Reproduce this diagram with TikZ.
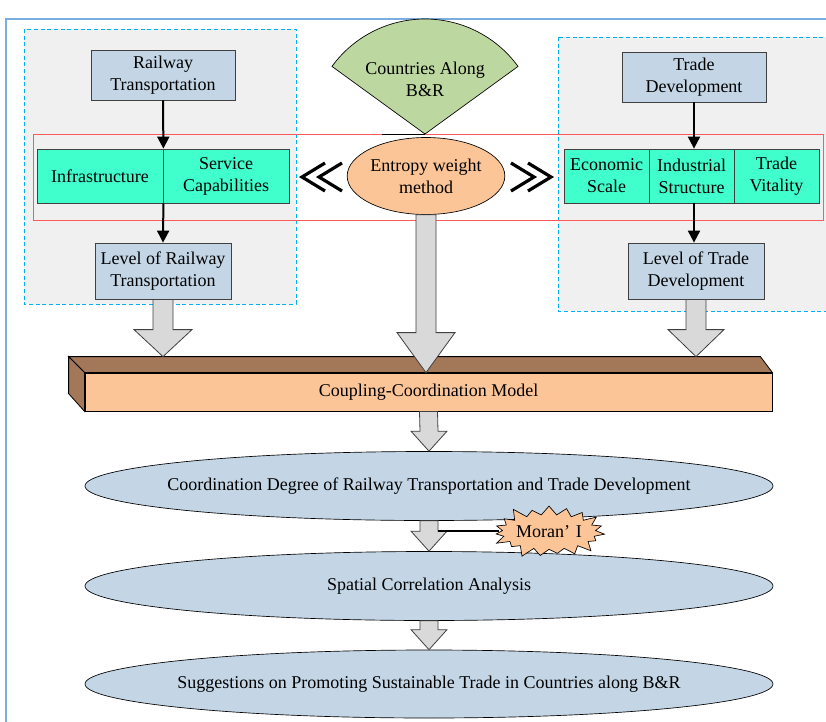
\documentclass[tikz,border=0pt]{standalone}
\usepackage{fontspec}
\setmainfont{Liberation Serif}
\newfontfamily\tsfont{Liberation Serif}
\usepackage{xcolor}
\usepackage{tikz}
\usetikzlibrary{shapes,shapes.symbols,arrows.meta,calc}

\definecolor{boxblue}{HTML}{C4D6E6}
\definecolor{mintgreen}{HTML}{40FFCC}
\definecolor{peach}{HTML}{FCC598}
\definecolor{sagegreen}{HTML}{BDD7A0}
\definecolor{woodbrown}{HTML}{A37858}
\definecolor{arrowgray}{HTML}{D9D9D9}
\definecolor{panelgray}{HTML}{F0F0F0}
\definecolor{framecyan}{HTML}{00B0F0}
\definecolor{frameblue}{HTML}{7AAEE0}
\definecolor{rowred}{HTML}{FF5A5A}

\tikzstyle{tsText} = [
    text=black,
    font=\tsfont\fontsize{13.5}{16.5}\selectfont
]
\tikzstyle{tsWraptext} = [
    tsText,
    text centered,
    align=center
]
\tikzstyle{tsRectangle} = [
    rectangle,
    tsWraptext,
    draw=black!75,
    line width=0.6pt,
    inner sep=0pt]
\tikzstyle{tsEllipse} = [
    ellipse,
    tsWraptext,
    draw=black,
    line width=0.5pt,
    inner sep=0pt]
\tikzstyle{tsFlow} = [
    draw=black,
    line width=1.5pt,
    -{Triangle[length=9pt,width=9pt]}]
\tikzstyle{tsBlock} = [
    fill=arrowgray,
    draw=black!75,
    line width=0.6pt]
\tikzstyle{tsPanel} = [
    fill=panelgray,
    draw=framecyan,
    line width=0.6pt,
    dash pattern=on 3pt off 2pt]

% block arrow: from #1 down to tip #2, head length #3, shaft half #4, head half #5
\newcommand{\tsBlockArrow}[5]{%
    \draw[tsBlock] ($(#1)+(-#4,0)$) -- ($(#2)+(-#4,-#3)$) -- ($(#2)+(-#5,-#3)$) -- (#2)
        -- ($(#2)+(#5,-#3)$) -- ($(#2)+(#4,-#3)$) -- ($(#1)+(#4,0)$) -- cycle;}

\begin{document}
\begin{tikzpicture}[x=0.75pt, y=-0.75pt]

    \useasboundingbox (0,0) rectangle (826,722);

    % frame and panels
    \draw[frameblue, line width=1pt] (830,19) -- (6,19) -- (6,730);
    \draw[tsPanel] (24,29) rectangle (296,304);
    \draw[tsPanel] (558,37) rectangle (840,311);
    \draw[rowred, line width=0.7pt] (33,134) rectangle (823,220);

    % countries sector
    \coordinate (apex) at (425,134);
    \draw[fill=sagegreen, draw=black, line width=0.5pt] (apex) -- ++(-144:115)
        arc[start angle=-144, end angle=-36, radius=115] -- cycle;
    \draw[black, line width=0.6pt] (382,134) -- (apex);
    \node[tsWraptext] (countries) at (425,79) {Countries Along\\B\&R};

    % railway side
    \node[  tsRectangle,
            minimum width=108pt,
            minimum height=37.5pt,
            fill=boxblue] (rail) at (163,75) {Railway\\Transportation};

    \node[  tsRectangle,
            minimum width=94.5pt,
            minimum height=40.5pt,
            fill=mintgreen] (infra) at (100,176) {Infrastructure};

    \node[  tsRectangle,
            minimum width=94.5pt,
            minimum height=40.5pt,
            fill=mintgreen] (service) at (226,176) {Service\\Capabilities};

    \node[  tsRectangle,
            minimum width=102pt,
            minimum height=42pt,
            fill=boxblue] (lvlrail) at (163,271) {Level of Railway\\Transportation};

    % trade side
    \node[  tsRectangle,
            minimum width=108pt,
            minimum height=37.5pt,
            fill=boxblue] (trade) at (694,77) {Trade\\Development};

    \node[  tsRectangle,
            minimum width=63.75pt,
            minimum height=40.5pt,
            fill=mintgreen] (econ) at (606.5,176) {Economic\\Scale};

    \node[  tsRectangle,
            minimum width=63.75pt,
            minimum height=40.5pt,
            fill=mintgreen] (indus) at (691.5,176) {Industrial\\Structure};

    \node[  tsRectangle,
            minimum width=63.75pt,
            minimum height=40.5pt,
            fill=mintgreen] (vital) at (776.5,176) {Trade\\Vitality};

    \node[  tsRectangle,
            minimum width=102pt,
            minimum height=42pt,
            fill=boxblue] (lvltrade) at (696,271) {Level of Trade\\Development};

    \draw[tsFlow] (rail.south) -- (infra.north east);
    \draw[tsFlow] (infra.south east) -- (lvlrail.north);
    \draw[tsFlow] (trade.south) -- (trade.south |- indus.north);
    \draw[tsFlow] (trade.south |- indus.south) -- (trade.south |- lvltrade.north);

    % entropy weight method
    \node[  tsEllipse,
            minimum width=113.25pt,
            minimum height=57.75pt,
            fill=peach] (entropy) at (426,176) {Entropy weight\\method};

    \draw[line width=2.4pt, miter limit=4] (325,163) -- (302,177) -- (325,191);
    \draw[line width=2.4pt, miter limit=4] (342,163) -- (319,177) -- (342,191);
    \draw[line width=2.4pt, miter limit=4] (511,163) -- (534,177) -- (511,191);
    \draw[line width=2.4pt, miter limit=4] (528,163) -- (551,177) -- (528,191);

    % coupling-coordination bar
    \node[  tsRectangle,
            minimum width=515.25pt,
            minimum height=28.5pt,
            draw=black,
            fill=peach] (coupling) at (428.5,392) {Coupling-Coordination Model};
    \draw[fill=woodbrown, draw=black, line width=0.6pt] (coupling.north west) -- ++(-16,-16)
        -- ($(coupling.north east)+(-12,-16)$) -- (coupling.north east) -- cycle;
    \draw[fill=woodbrown, draw=black, line width=0.6pt] (coupling.north west) -- ++(-16,-16)
        -- ++(0,37) -- (coupling.south west) -- cycle;
    \coordinate (bartop) at ($(coupling.north)+(0,-16)$);

    \tsBlockArrow{lvlrail.south}{lvlrail.south |- bartop}{27}{10}{29}
    \tsBlockArrow{lvltrade.south}{lvltrade.south |- bartop}{27}{10}{28}
    \tsBlockArrow{entropy.south}{entropy.south |- coupling.north}{40}{10}{29}

    % results
    \node[  tsEllipse,
            inner xsep=-14pt,
            minimum width=516pt,
            minimum height=51.75pt,
            fill=boxblue] (degree) at (429,486) {Coordination Degree of Railway Transportation and Trade Development};

    \node[  tsEllipse,
            inner xsep=-14pt,
            minimum width=516pt,
            minimum height=51.75pt,
            fill=boxblue] (spatial) at (429,586) {Spatial Correlation Analysis};

    \node[  tsEllipse,
            inner xsep=-14pt,
            minimum width=516pt,
            minimum height=51pt,
            fill=boxblue] (suggest) at (429,684) {Suggestions on Promoting Sustainable Trade in Countries along B\&R};

    \tsBlockArrow{coupling.south}{degree.north}{20}{9}{18}
    \tsBlockArrow{degree.south}{spatial.north}{20}{9}{18}
    \tsBlockArrow{spatial.south}{suggest.north}{20}{9}{18}

    % moran
    \node[  starburst,
            tsWraptext,
            starburst points=19,
            starburst point height=9pt,
            inner sep=0pt,
            minimum width=73pt,
            minimum height=44pt,
            draw=black,
            line width=0.5pt,
            fill=peach] (moran) at (549,532) {Moran’\,\,I};
    \coordinate (moranjoin) at (438,531);
    \draw[black, line width=1.3pt] (moranjoin) -- (moranjoin -| moran.west);

\end{tikzpicture}
\end{document}
